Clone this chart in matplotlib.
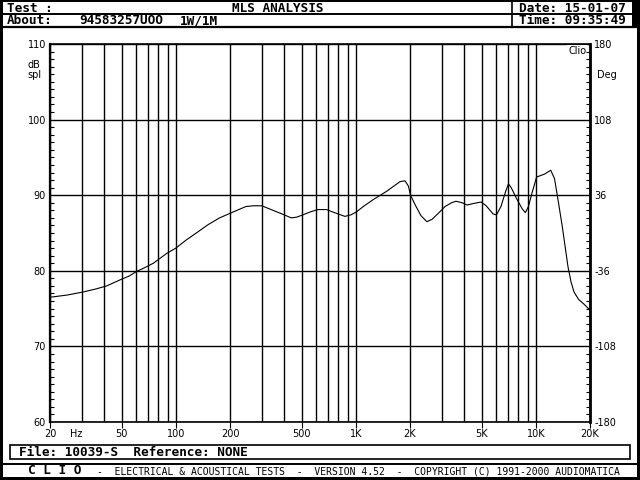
import matplotlib
matplotlib.use("Agg")
import matplotlib.pyplot as plt
import matplotlib.ticker as mticker
from matplotlib.patches import Rectangle
import numpy as np

# ---- data ----
freq_hz = [20, 25, 30.6, 36, 41.3, 49, 55, 60.4, 67, 75, 89, 100, 114.6, 130, 151, 175,
           200, 245, 270, 300, 347, 400, 438, 470, 508, 560, 616, 687, 760, 869, 940,
           1009, 1100, 1246, 1480, 1762, 1877, 1960, 2013, 2150, 2300, 2480, 2650, 2900,
           3130, 3400, 3600, 3900, 4150, 4500, 4970, 5300, 5800, 6050, 6400, 6800, 7050,
           7300, 7800, 8400, 8750, 9100, 9500, 10100, 11200, 12100, 12700, 13200, 14000,
           15100, 15700, 16300, 17300, 18500, 20000]
spl_db = [76.5, 76.8, 77.2, 77.6, 78.0, 78.8, 79.3, 79.9, 80.4, 81.0, 82.3, 83.0, 84.1, 85.0,
          86.1, 87.0, 87.6, 88.5, 88.6, 88.6, 88.0, 87.4, 87.0, 87.1, 87.4, 87.8, 88.1, 88.1,
          87.7, 87.2, 87.4, 87.8, 88.5, 89.4, 90.5, 91.8, 91.9, 91.2, 90.0, 88.6, 87.3, 86.5,
          86.8, 87.7, 88.5, 89.0, 89.2, 89.0, 88.7, 88.9, 89.1, 88.6, 87.5, 87.4, 88.5, 90.5,
          91.5, 91.0, 89.6, 88.2, 87.7, 88.5, 90.2, 92.4, 92.8, 93.3, 92.2, 89.8, 86.0, 80.5,
          78.5, 77.2, 76.2, 75.6, 74.8]

x_tick_vals = [20, 50, 100, 200, 500, 1000, 2000, 5000, 10000, 20000]
x_tick_labels = ["20", "50", "100", "200", "500", "1K", "2K", "5K", "10K", "20K"]
y_tick_vals = [60, 70, 80, 90, 100, 110]
y_tick_labels = ["60", "70", "80", "90", "100", "110"]
deg_tick_vals = [-180, -108, -36, 36, 108, 180]
deg_tick_labels = ["-180", "-108", "-36", "36", "108", "180"]

W, H = 640, 480
fig = plt.figure(figsize=(6.4, 4.8), dpi=100)
fig.patch.set_facecolor("white")

# background layer in pixel coordinates
bg = fig.add_axes([0, 0, 1, 1])
bg.set_xlim(0, W)
bg.set_ylim(H, 0)
bg.axis("off")

def rect(x, y, w, h, **kw):
    bg.add_patch(Rectangle((x, y), w, h, **kw))

# outer borders
rect(0, 0, W, 2, color="black", lw=0)
rect(0, 0, 3, H, color="black", lw=0)
rect(637, 0, 3, H, color="black", lw=0)
rect(632, 0, 8, 27, color="black", lw=0)
rect(0, 477, W, 3, color="black", lw=0)
# header lines
bg.plot([0, W], [14, 14], color="black", lw=1.4)
bg.plot([0, W], [27, 27], color="black", lw=1.6)
bg.plot([512, 512], [0, 27], color="black", lw=1.2)

mono_b = dict(family="DejaVu Sans Mono", fontweight="bold", fontsize=9.2, va="center")
bg.text(7, 8, "Test :", ha="left", **mono_b)
bg.text(278, 8, "MLS ANALYSIS", ha="center", **mono_b)
bg.text(7, 20.5, "About:", ha="left", **mono_b)
bg.text(79, 20.5, "94583257UOO", ha="left", **mono_b)
bg.text(180, 20.5, "1W/1M", ha="left", **mono_b)
bg.text(519, 8, "Date: 15-01-07", ha="left", **mono_b)
bg.text(519, 20.5, "Time: 09:35:49", ha="left", **mono_b)

# file box
rect(10, 445, 620, 14, fill=False, edgecolor="black", lw=1.2)
bg.text(19, 452.5, "File: 10039-S  Reference: NONE", ha="left", **mono_b)

# footer
bg.plot([0, W], [464, 464], color="black", lw=1.4)
bg.text(28, 471, "C L I O", ha="left", family="DejaVu Sans Mono", fontweight="bold",
        fontsize=9.2, va="center")
bg.text(97, 471, "-  ELECTRICAL & ACOUSTICAL TESTS  -  VERSION 4.52  -  COPYRIGHT (C) 1991-2000 AUDIOMATICA",
        ha="left", family="DejaVu Sans Mono", fontsize=7.0, va="center")

# axis side labels
lab = dict(family="DejaVu Sans", fontsize=7, color="black")
bg.text(27, 65, "dB", ha="left", va="center", **lab)
bg.text(27, 75, "spl", ha="left", va="center", **lab)
bg.text(597, 75, "Deg", ha="left", va="center", **lab)
bg.text(76, 434, "Hz", ha="center", va="center", **lab)

# ---- main plot ----
L, R, T, B = 50, 590, 44, 422
ax = fig.add_axes([L / W, 1 - B / H, (R - L) / W, (B - T) / H])
ax.set_xscale("log")
ax.set_xlim(20, 20000)
ax.set_ylim(60, 110)

minor_x = [m * d for d in (10, 100, 1000, 10000) for m in range(1, 10) if 20 < m * d < 20000]
ax.set_xticks(x_tick_vals, x_tick_labels)
ax.set_xticks(minor_x, minor=True)
ax.xaxis.set_minor_formatter(mticker.NullFormatter())
ax.set_yticks(y_tick_vals, y_tick_labels)
ax.set_yticks(np.arange(60, 111, 1), minor=True)

ax.grid(True, axis="x", which="both", color="black", lw=1.0)
ax.grid(True, axis="y", which="major", color="black", lw=1.0)
ax.set_axisbelow(True)

ax.tick_params(axis="x", which="major", direction="out", length=4, width=0.8, pad=1,
               labelsize=7)
ax.tick_params(axis="x", which="minor", length=0)
ax.tick_params(axis="y", which="major", length=0, pad=3, labelsize=7)
ax.tick_params(axis="y", which="minor", direction="in", length=3, width=0.8)

for s in ("top", "bottom"):
    ax.spines[s].set_linewidth(1.2)
ax.spines["left"].set_linewidth(1.6)
ax.spines["right"].set_linewidth(2.0)

ax.plot(freq_hz, spl_db, color="black", lw=0.8)

ax2 = ax.twinx()
ax2.set_ylim(-180, 180)
ax2.set_yticks(deg_tick_vals, deg_tick_labels)
ax2.set_yticks(np.arange(-180, 181, 7.2), minor=True)
ax2.tick_params(axis="y", which="major", length=0, pad=3, labelsize=7)
ax2.tick_params(axis="y", which="minor", direction="in", length=3, width=0.8)
for s in ax2.spines.values():
    s.set_visible(False)

ax.text(0.993, 0.995, "Clio", transform=ax.transAxes, ha="right", va="top",
        family="DejaVu Sans", fontsize=7,
        bbox=dict(facecolor="white", edgecolor="none", pad=0.5))

for t in ax.get_xticklabels() + ax.get_yticklabels() + ax2.get_yticklabels():
    t.set_family("DejaVu Sans")

fig.savefig("out.png", dpi=100)
